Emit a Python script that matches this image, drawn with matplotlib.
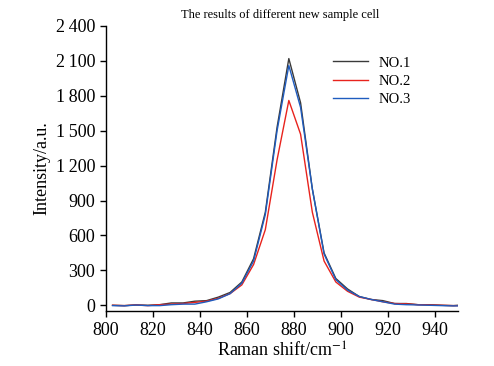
import matplotlib
matplotlib.use("Agg")
import matplotlib.pyplot as plt
from matplotlib.ticker import FuncFormatter

plt.rcParams['font.family'] = ['Liberation Serif', 'DejaVu Serif']
plt.rcParams['mathtext.fontset'] = 'stix'

shift = [803, 808, 813, 818, 823, 828, 833, 838, 843, 848, 853, 858, 863, 868, 873,
         878, 883, 888, 893, 898, 903, 908, 913, 918, 923, 928, 933, 938, 943, 948, 950]
no1 = [0, -3, 3, 0, 5, 20, 20, 35, 40, 70, 110, 200, 400, 800, 1530,
       2120, 1740, 1000, 450, 230, 140, 75, 50, 40, 15, 15, 5, 5, 0, -3, 0]
no2 = [0, -3, 3, -3, 5, 10, 15, 25, 35, 60, 100, 175, 350, 650, 1250,
       1760, 1470, 800, 380, 200, 120, 70, 50, 30, 15, 12, 5, 3, 0, -3, -3]
no3 = [-3, -5, 2, -3, -3, 5, 10, 10, 30, 55, 100, 190, 380, 780, 1500,
       2060, 1700, 1000, 440, 220, 130, 75, 50, 30, 10, 5, 3, 0, -3, -5, -5]
labels = ['NO.1', 'NO.2', 'NO.3']
colors = ['#3a3a3a', '#e8231d', '#1f5cbf']

fig = plt.figure(figsize=(4.94, 3.66), dpi=100)
ax = fig.add_axes([0.2136, 0.150, 0.7136, 0.779])
for y, lab, c in zip([no1, no2, no3], labels, colors):
    ax.plot(shift, y, color=c, lw=1.0, label=lab)

ax.set_xlim(800, 950)
ax.set_ylim(-50, 2400)
ax.set_xticks(range(800, 950, 20))
ax.set_yticks(range(0, 2401, 300))
ax.yaxis.set_major_formatter(FuncFormatter(lambda v, p: f"{int(v):,}".replace(',', '\u2009')))
ax.spines['top'].set_visible(False)
ax.spines['right'].set_visible(False)
ax.tick_params(labelsize=13, direction='out', length=4, width=1)
for s in ['left', 'bottom']:
    ax.spines[s].set_linewidth(1.0)
ax.set_xlabel('Raman shift/cm$^{-1}$', fontsize=13, labelpad=2)
ax.set_ylabel('Intensity/a.u.', fontsize=13, labelpad=4)
fig.text(0.568, 0.958, 'The results of different new sample cell', fontsize=9, ha='center', va='center')
ax.legend(loc='upper left', bbox_to_anchor=(0.674, 0.846), bbox_transform=fig.transFigure,
          frameon=False, fontsize=10.5, borderaxespad=0, borderpad=0,
          handlelength=2.4, labelspacing=0.35, handletextpad=0.7)
fig.savefig('out.png', dpi=100)
